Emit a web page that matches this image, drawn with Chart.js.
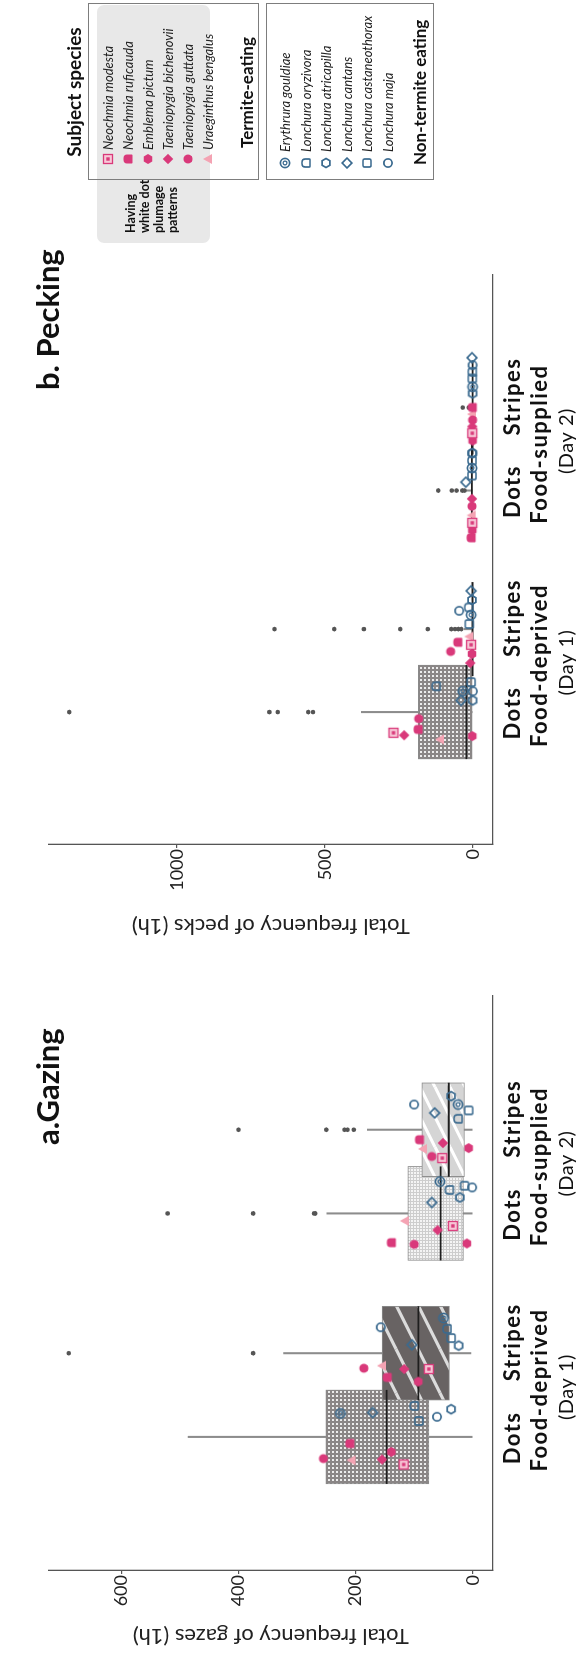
<!DOCTYPE html>
<html>
<head>
<meta charset="utf-8">
<title>Gazing and pecking by subject species</title>
<script src="https://cdn.jsdelivr.net/npm/chart.js@4.4.1/dist/chart.umd.min.js"></script>
<style>
  html, body { margin: 0; padding: 0; background: #fff; }
  body { width: 577px; height: 1657px; overflow: hidden; position: relative; font-family: Lato, "Open Sans", sans-serif; color: #111; }
  /* the figure is laid out landscape and turned a quarter turn anticlockwise */
  #fig { position: absolute; left: 0; top: 0; width: 1657px; height: 577px; transform-origin: 0 0; transform: translate(0, 1657px) rotate(-90deg); }
  #fig canvas { position: absolute; top: 0; }
  .ptitle { position: absolute; top: 32px; font-size: 31px; font-weight: 700; line-height: 1; white-space: nowrap; }
  .lt { position: absolute; white-space: nowrap; line-height: 1; transform: translateY(-50%); }
  .box { position: absolute; border: 1.5px solid #7d7d7d; box-sizing: border-box; }
  #dotzone { position: absolute; left: 1414px; top: 97px; width: 238px; height: 113px; background: #e8e8e8; border-radius: 7px; }
  #dotnote { position: absolute; left: 1424px; top: 124px; font-size: 12.5px; font-weight: 700; line-height: 14px; }
</style>
</head>
<body>
<div id="fig">
  <canvas id="gazeChart" width="710" height="577" style="left:0"></canvas>
  <canvas id="peckChart" width="711" height="577" style="left:720px"></canvas>
  <div class="ptitle" style="left:512px">a.Gazing</div>
  <div class="ptitle" style="left:1267px">b. Pecking</div>
  <div id="dotzone"></div>
  <div id="dotnote">Having<br>white dot<br>plumage<br>patterns</div>
  <div class="box" style="left:1477px; top:88px; width:177px; height:171px"></div>
  <div class="box" style="left:1477px; top:266px; width:177px; height:168px"></div>
  <div class="lt" style="left:1565px; top:73px; font-size:19px; font-weight:700; transform:translate(-50%,-50%)">Subject species</div>
</div>
<script>
// ---- data ----
const condLabels = ['Dots', 'Stripes'];
const groupNames = ['Food-deprived', 'Food-supplied'];
const dayNames = ['(Day 1)', '(Day 2)'];
// x position of the four boxes: Dots D1, Stripes D1, Dots D2, Stripes D2
const condPos = [1.1, 2.1, 3.77, 4.77];

const gazeTicks = [0, 200, 400, 600];
const peckTicks = [0, 500, 1000];

// box statistics, one entry per condition
const gazeQ1  = [75, 40, 16, 14];
const gazeMed = [147, 93, 55, 41];
const gazeQ3  = [251, 155, 111, 87];
const gazeLo  = [0, 3, 0, 0];
const gazeHi  = [486, 323, 249, 180];
const gazeOut = [[], [690, 375], [521, 375, 271, 269], [400, 250, 219, 214, 203]];

const peckQ1  = [2, 0, 0, 0];
const peckMed = [22, 1, 3, 1];
const peckQ3  = [184, 4, 6, 3];
const peckLo  = [0, 0, 0, 0];
const peckHi  = [377, 30, 22, 8];
const peckOut = [[1363, 687, 659, 556, 540], [670, 468, 368, 245, 152, 73, 60, 49, 39], [117, 71, 55, 36, 28], [34, 14]];

const species = ['Neochmia modesta', 'Neochmia ruficauda', 'Emblema pictum', 'Taeniopygia bichenovii',
  'Taeniopygia guttata', 'Uraeginthus bengalus', 'Erythrura gouldiae', 'Lonchura oryzivora',
  'Lonchura atricapilla', 'Lonchura cantans', 'Lonchura castaneothorax', 'Lonchura maja'];

// species values per condition (Dots D1, Stripes D1, Dots D2, Stripes D2)
const gazeVals = [
  [118, 75, 34, 52], [210, 146, 139, 91], [139, 93, 10, 7], [155, 117, 60, 51],
  [255, 186, 100, 70], [207, 155, 116, 85], [226, 50, 56, 25], [100, 44, 40, 25],
  [37, 24, 22, 37], [171, 104, 70, 65], [92, 37, 14, 7], [61, 157, 1, 100]
];
const peckVals = [
  [268, 6, 2, 2], [185, 51, 6, 2], [2, 3, 2, 1], [232, 9, 3, 2],
  [183, 75, 3, 1], [111, 12, 4, 3], [34, 6, 3, 1], [124, 14, 3, 2],
  [1, 3, 2, 1], [40, 6, 24, 3], [6, 12, 3, 2], [0, 46, 2, 1]
];
// horizontal jitter of each species point around its box (x units)
const gazeJit = [
  [-0.33, -0.19, -0.15, -0.34], [-0.08, -0.29, -0.35, -0.12], [-0.18, -0.34, -0.36, -0.22], [-0.27, -0.19, -0.20, -0.16],
  [-0.26, -0.18, -0.37, -0.32], [-0.28, -0.15, -0.09, -0.23], [0.28, 0.42, 0.38, 0.30], [0.37, 0.29, 0.28, 0.13],
  [0.33, 0.09, 0.19, 0.40], [0.29, 0.10, 0.13, 0.20], [0.19, 0.18, 0.33, 0.23], [0.24, 0.31, 0.31, 0.30]
];
const peckJit = [
  [-0.25, -0.19, -0.39, -0.31], [-0.21, -0.16, -0.57, 0.0], [-0.29, -0.30, -0.48, -0.40], [-0.28, -0.41, -0.10, -0.23],
  [-0.08, -0.27, -0.19, -0.15], [-0.33, -0.09, -0.30, -0.08], [0.25, 0.17, 0.27, 0.25], [0.31, 0.26, 0.36, 0.43],
  [0.14, 0.35, 0.45, 0.17], [0.14, 0.46, 0.10, 0.60], [0.36, 0.06, 0.18, 0.35], [0.25, 0.22, 0.45, 0.51]
];

// ---- styles ----
const PINK = '#d9397a', LPINK = '#f4a3b3', BLUE = '#3a6a8f';
const markerKind = ['sqdot', 'arch', 'hex', 'diamond', 'circle', 'tri',
  'ring2', 'archO', 'hexO', 'diamondO', 'squareO', 'circleO'];

function makeMarker(kind) {
  const c = document.createElement('canvas');
  c.width = 14; c.height = 14;
  const g = c.getContext('2d');
  const m = 7;
  g.lineWidth = 1.7; g.strokeStyle = BLUE; g.fillStyle = PINK;
  const poly = (n, r, a0) => {
    g.beginPath();
    for (let i = 0; i < n; i++) {
      const a = a0 + i * 2 * Math.PI / n;
      const px = m + r * Math.cos(a), py = m + r * Math.sin(a);
      if (i) g.lineTo(px, py); else g.moveTo(px, py);
    }
    g.closePath();
  };
  const arch = (w, h, r) => { g.beginPath(); g.roundRect(m - w / 2, m - h / 2, w, h, [r, r, 0.8, 0.8]); };
  switch (kind) {
    case 'sqdot':
      g.fillStyle = '#f7c9d8'; g.fillRect(2.5, 2.5, 9, 9);
      g.lineWidth = 1.3; g.strokeStyle = PINK; g.strokeRect(2.5, 2.5, 9, 9);
      g.fillStyle = PINK; g.fillRect(5.3, 5.3, 3.4, 3.4); break;
    case 'arch': arch(9, 9, 3.6); g.fill(); break;
    case 'hex': poly(6, 5, 0); g.fill(); break;
    case 'diamond': poly(4, 5.2, Math.PI / 2); g.fill(); break;
    case 'circle': g.beginPath(); g.arc(m, m, 4.5, 0, 2 * Math.PI); g.fill(); break;
    case 'tri':
      g.fillStyle = LPINK; g.beginPath();
      g.moveTo(m, 2); g.lineTo(m + 5, 11); g.lineTo(m - 5, 11); g.closePath(); g.fill(); break;
    case 'ring2':
      g.beginPath(); g.arc(m, m, 4.6, 0, 2 * Math.PI); g.stroke();
      g.lineWidth = 1.3; g.beginPath(); g.arc(m, m, 1.9, 0, 2 * Math.PI); g.stroke(); break;
    case 'archO': arch(8, 8, 3.2); g.stroke(); break;
    case 'hexO': poly(6, 4.5, 0); g.stroke(); break;
    case 'diamondO': poly(4, 4.9, Math.PI / 2); g.stroke(); break;
    case 'squareO': g.beginPath(); g.roundRect(3, 3, 8, 8, 1.6); g.stroke(); break;
    case 'circleO': g.beginPath(); g.arc(m, m, 4.1, 0, 2 * Math.PI); g.stroke(); break;
  }
  return c;
}
const markerImg = markerKind.map(makeMarker);

// fill patterns for the boxes
function dotPattern(bg, fg, tile, sq) {
  const c = document.createElement('canvas');
  c.width = tile; c.height = tile;
  const g = c.getContext('2d');
  g.fillStyle = bg; g.fillRect(0, 0, tile, tile);
  g.fillStyle = fg; g.fillRect(0, 0, sq, sq);
  return g.createPattern(c, 'repeat');
}
function stripePattern(bg, fg, h, lw) {
  const c = document.createElement('canvas');
  const w = 2 * h;
  c.width = w; c.height = h;
  const g = c.getContext('2d');
  g.fillStyle = bg; g.fillRect(0, 0, w, h);
  g.strokeStyle = fg; g.lineWidth = lw;
  for (let i = -1; i <= 1; i++) {
    for (let j = -1; j <= 1; j++) {
      g.beginPath();
      g.moveTo(i * w, h + j * h);
      g.lineTo(i * w + w, j * h);
      g.stroke();
    }
  }
  return g.createPattern(c, 'repeat');
}
const boxFills = [
  dotPattern('#8a8686', '#ececec', 4, 2),
  stripePattern('#686363', '#dcdcdc', 22, 3.2),
  dotPattern('#cdcdcd', '#f4f4f4', 3, 2),
  stripePattern('#d5d5d5', '#ffffff', 15, 3)
];

// ---- datasets ----
function boxSets(q1, med, q3, lo, hi, out) {
  return [
    { type: 'bar', order: 50, grouped: false, barThickness: 1.4, backgroundColor: '#8c8c8c', borderWidth: 0,
      data: condPos.map((x, k) => ({ x, y: [lo[k], hi[k]] })) },
    { type: 'bar', order: 40, grouped: false, barThickness: 94, backgroundColor: boxFills,
      borderColor: '#8a8a8a', borderWidth: 1, borderSkipped: false,
      data: condPos.map((x, k) => ({ x, y: [q1[k], q3[k]] })) },
    { type: 'scatter', order: 30, pointStyle: 'line', pointRadius: 47, pointHoverRadius: 47,
      pointBorderWidth: 1.8, pointBorderColor: '#1e1e1e',
      data: condPos.map((x, k) => ({ x, y: med[k] })) },
    { type: 'scatter', order: 20, pointRadius: 2.3, pointHoverRadius: 2.3, pointBackgroundColor: '#555',
      pointBorderWidth: 0,
      data: out.flatMap((arr, k) => arr.map(v => ({ x: condPos[k], y: v }))) }
  ];
}
function speciesSets(vals, jit) {
  return species.map((name, i) => ({
    type: 'scatter', label: name, order: 10,
    pointStyle: markerImg[i], pointRadius: 5, pointHoverRadius: 5,
    data: vals[i].map((v, k) => ({ x: condPos[k] + jit[i][k], y: v }))
  }));
}

// condition / group labels under the x axis
const catLabels = {
  id: 'catLabels',
  afterDraw(chart) {
    const ctx = chart.ctx, xs = chart.scales.x;
    const base = chart.chartArea.bottom;
    ctx.save();
    ctx.fillStyle = '#111';
    ctx.textAlign = 'center';
    for (let g = 0; g < 2; g++) {
      const pD = xs.getPixelForValue(condPos[2 * g]);
      const pS = xs.getPixelForValue(condPos[2 * g + 1]);
      const mid = (pD + pS) / 2;
      ctx.font = '700 22px Lato';
      ctx.letterSpacing = '1.5px';
      ctx.fillText(condLabels[0], pD - 1, base + 27);
      ctx.fillText(condLabels[1], pS + 11, base + 27);
      ctx.fillText(groupNames[g], mid + 5, base + 54);
      ctx.font = '400 20px Lato';
      ctx.letterSpacing = '0.5px';
      ctx.fillText(dayNames[g], mid + 8, base + 80);
    }
    ctx.restore();
  }
};

function makeChart(id, sets, yMin, yMax, ticksArr, title, axisW, titlePad, padTop) {
  return new Chart(document.getElementById(id), {
    type: 'scatter',
    data: { datasets: sets },
    options: {
      responsive: false,
      animation: false,
      layout: { padding: { top: padTop, right: 11, bottom: 0, left: 0 } },
      plugins: { legend: { display: false }, tooltip: { enabled: false } },
      scales: {
        x: {
          type: 'linear', min: 0, max: 5.88,
          afterFit: s => { s.height = 84; },
          ticks: { display: false },
          grid: { display: false },
          border: { display: true, color: '#555', width: 1.3 }
        },
        y: {
          type: 'linear', min: yMin, max: yMax,
          afterBuildTicks: s => { s.ticks = ticksArr.map(v => ({ value: v })); },
          afterFit: s => { s.width = axisW; },
          ticks: { font: { family: 'Lato', size: 18 }, color: '#222', padding: 1, callback: v => String(v) },
          grid: { drawOnChartArea: false, drawTicks: true, tickLength: 4, color: '#555', lineWidth: 1.2 },
          border: { display: true, color: '#555', width: 1.3 },
          title: { display: true, text: title, color: '#222',
            font: { family: 'Lato', size: 22, lineHeight: 1 }, padding: { top: titlePad, bottom: 0 } }
        }
      }
    },
    plugins: [catLabels]
  });
}

makeChart('gazeChart',
  [...speciesSets(gazeVals, gazeJit), ...boxSets(gazeQ1, gazeMed, gazeQ3, gazeLo, gazeHi, gazeOut)],
  -34.6, 724, gazeTicks, 'Total frequency of gazes (1h)', 87, 10, 11);

makeChart('peckChart',
  [...speciesSets(peckVals, peckJit), ...boxSets(peckQ1, peckMed, peckQ3, peckLo, peckHi, peckOut)],
  -68, 1432, peckTicks, 'Total frequency of pecks (1h)', 93, 0, 7);

// ---- legend ----
const fig = document.getElementById('fig');
function putMarker(kind, cx, cy) {
  const c = makeMarker(kind);
  c.style.left = (cx - 7) + 'px';
  c.style.top = (cy - 7) + 'px';
  fig.appendChild(c);
}
function putText(txt, x, y, css) {
  const d = document.createElement('div');
  d.className = 'lt';
  d.textContent = txt;
  d.style.left = x + 'px';
  d.style.top = y + 'px';
  Object.assign(d.style, css);
  fig.appendChild(d);
}
const rowsTermite = [108, 128, 148, 168, 188, 208];
const rowsOther = [285, 305.6, 326.2, 346.8, 367.4, 388];
species.forEach((name, i) => {
  const y = i < 6 ? rowsTermite[i] : rowsOther[i - 6];
  putMarker(markerKind[i], i < 6 ? 1497.5 : 1494, y);
  putText(name, i < 6 ? 1507 : 1505, y, { fontSize: '13px', fontStyle: 'italic', color: '#222' });
});
putText('Termite-eating', 1509, 246, { fontSize: '17px', fontWeight: '700' });
putText('Non-termite eating', 1492, 419, { fontSize: '17px', fontWeight: '700' });
</script>
</body>
</html>
